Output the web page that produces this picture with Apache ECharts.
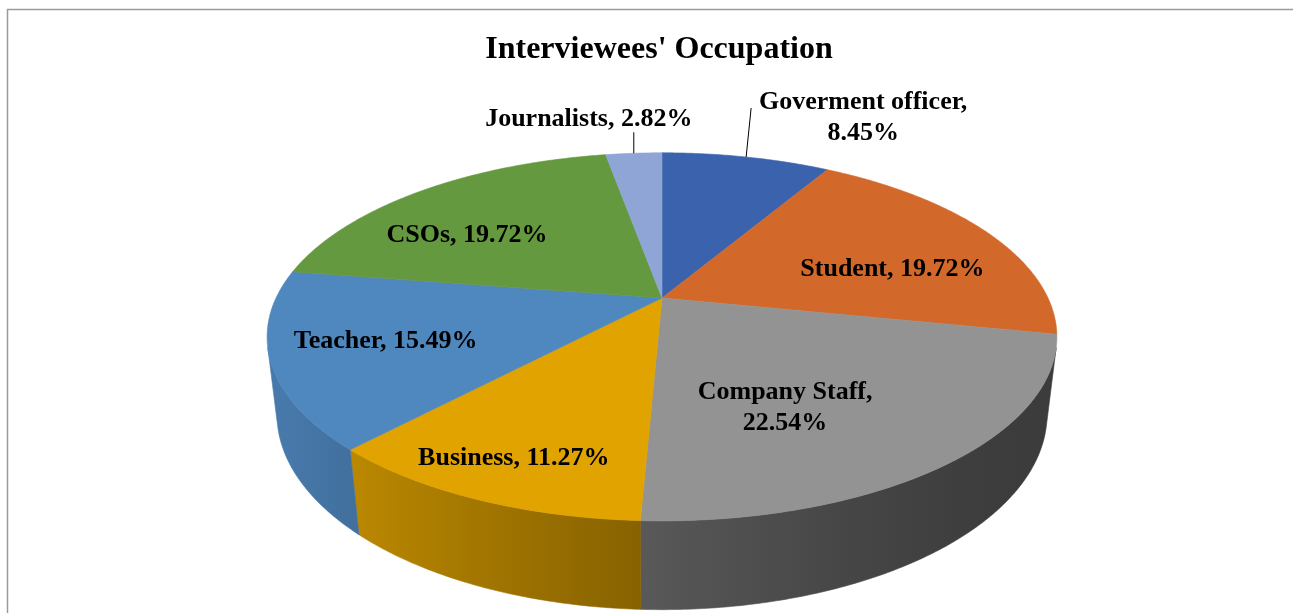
<!DOCTYPE html>
<html><head><meta charset="utf-8">
<script src="https://cdn.jsdelivr.net/npm/echarts@6/dist/echarts.min.js"></script>
<style>html,body{margin:0;padding:0;background:#fff}#chart{width:1293px;height:613px}</style>
</head><body><div id="chart"></div>
<script>
// ---------- data ----------
const titleText = "Interviewees' Occupation";
const categories = ['Goverment officer', 'Student', 'Company Staff', 'Business', 'Teacher', 'CSOs', 'Journalists'];
const values = [8.45, 19.72, 22.54, 11.27, 15.49, 19.72, 2.82];
const labelTexts = ['Goverment officer,\n8.45%', 'Student, 19.72%', 'Company Staff,\n22.54%', 'Business, 11.27%', 'Teacher, 15.49%', 'CSOs, 19.72%', 'Journalists, 2.82%'];

// ---------- style / layout ----------
const colors = ['#3B63AD', '#D2692B', '#939393', '#E0A300', '#4F87BF', '#64993F', '#8FA5D6'];
const VIEW = { cx: 662, cy: 298, scale: 386, tiltDeg: 27.1, persp: 0.237, thick: 0.226 };
const labelLayout = [
  { outside: true, lineDx: 5, lineLen: 49, dx: 112, dy: 10, align: 'center' },
  { r: 0.64, dAng: 9 },
  { r: 0.62, dAng: 11 },
  { r: 0.83, dAng: 0 },
  { r: 0.72, dAng: 0 },
  { r: 0.67, dAng: -9 },
  { outside: true, lineDx: 0, lineLen: 21, dx: -45, dy: -13, align: 'center' }
];
const FONT = 'bold 26px "Liberation Serif", "Times New Roman", serif';
const TITLE_FONT = 'bold 32px "Liberation Serif", "Times New Roman", serif';

// ---------- projection ----------
const tilt = VIEW.tiltDeg * Math.PI / 180;
const sinP = Math.sin(tilt), cosP = Math.cos(tilt);
const Dd = 1 / VIEW.persp, fz = VIEW.scale * Dd;
function proj(X, Y, Z) {
  const d = Dd + Y * cosP - Z * sinP;
  return [VIEW.cx + fz * X / d, VIEW.cy - fz * (Y * sinP + Z * cosP) / d];
}
const total = values.reduce((s, v) => s + v, 0);
const cum = [0];
values.forEach((v, i) => cum.push(cum[i] + v));
const TAU = Math.PI * 2;
const thC = Math.acos(-VIEW.persp / cosP);
const xL = proj(-1, 0, 0)[0], xR = proj(1, 0, 0)[0];
function shade(x) {
  let t = (xR - x) / (xR - xL);
  t = Math.max(0, Math.min(1, t));
  return 0.4 + 0.5 * Math.pow(t, 1.4);
}
function darken(hex, k) {
  const n = parseInt(hex.slice(1), 16);
  const r = Math.round(((n >> 16) & 255) * k), g = Math.round(((n >> 8) & 255) * k), b = Math.round((n & 255) * k);
  return 'rgb(' + r + ',' + g + ',' + b + ')';
}

function renderItem(params, api) {
  const i = params.dataIndex;
  const a0 = cum[i] / total * TAU, a1 = cum[i + 1] / total * TAU;
  const color = colors[i];
  const children = [];
  // outer wall (front-facing part only)
  const w0 = Math.max(a0, thC), w1 = Math.min(a1, TAU - thC);
  if (w1 > w0) {
    const n = Math.max(2, Math.ceil((w1 - w0) / 0.01));
    const top = [], bot = [];
    for (let k = 0; k <= n; k++) {
      const t = w0 + (w1 - w0) * k / n;
      top.push(proj(Math.sin(t), Math.cos(t), 0));
      bot.push(proj(Math.sin(t), Math.cos(t), -VIEW.thick));
    }
    const pts = top.concat(bot.reverse());
    let mn = Infinity, mx = -Infinity;
    pts.forEach(p => { mn = Math.min(mn, p[0]); mx = Math.max(mx, p[0]); });
    const stops = [];
    for (let s = 0; s <= 6; s++) {
      const o = s / 6;
      stops.push({ offset: o, color: darken(color, shade(mn + o * (mx - mn))) });
    }
    const grad = { type: 'linear', x: mn, y: 0, x2: mx, y2: 0, global: true, colorStops: stops };
    children.push({ type: 'polygon', shape: { points: pts }, style: { fill: grad, stroke: grad, lineWidth: 0.6 }, z2: 1 });
  }
  // top face
  const tp = [proj(0, 0, 0)];
  const m = Math.max(2, Math.ceil((a1 - a0) / 0.008));
  for (let k = 0; k <= m; k++) {
    const t = a0 + (a1 - a0) * k / m;
    tp.push(proj(Math.sin(t), Math.cos(t), 0));
  }
  children.push({ type: 'polygon', shape: { points: tp }, style: { fill: color, stroke: color, lineWidth: 0.6 }, z2: 2 });
  // label
  const L = labelLayout[i];
  const mid = (a0 + a1) / 2;
  if (L.outside) {
    const p0 = proj(Math.sin(mid), Math.cos(mid), 0);
    const p1 = [p0[0] + L.lineDx, p0[1] - L.lineLen];
    children.push({ type: 'line', shape: { x1: p0[0], y1: p0[1], x2: p1[0], y2: p1[1] }, style: { stroke: '#000', lineWidth: 1 }, z2: 5 });
    children.push({ type: 'text', style: { text: labelTexts[i], x: p1[0] + L.dx, y: p1[1] + L.dy, align: L.align, verticalAlign: 'middle', font: FONT, fill: '#000', lineHeight: 31 }, z2: 10 });
  } else {
    const t = mid + L.dAng * Math.PI / 180;
    const p = proj(L.r * Math.sin(t), L.r * Math.cos(t), 0);
    children.push({ type: 'text', style: { text: labelTexts[i], x: p[0], y: p[1], align: 'center', verticalAlign: 'middle', font: FONT, fill: '#000', lineHeight: 31 }, z2: 10 });
  }
  return { type: 'group', children };
}

const chart = echarts.init(document.getElementById('chart'), null, { renderer: 'canvas' });
chart.setOption({
  backgroundColor: '#ffffff',
  animation: false,
  graphic: [
    { type: 'rect', shape: { x: 7.5, y: 9.5, width: 1400, height: 800 }, style: { fill: 'none', stroke: '#9a9a9a', lineWidth: 1.5 }, silent: true, z: -1 },
    { type: 'text', style: { text: titleText, x: 659, y: 50, align: 'center', verticalAlign: 'middle', font: TITLE_FONT, fill: '#000' } }
  ],
  series: [{
    type: 'custom',
    coordinateSystem: 'none',
    renderItem: renderItem,
    data: values.map((v, i) => ({ name: categories[i], value: [v, i] }))
  }]
});
</script>
</body></html>
